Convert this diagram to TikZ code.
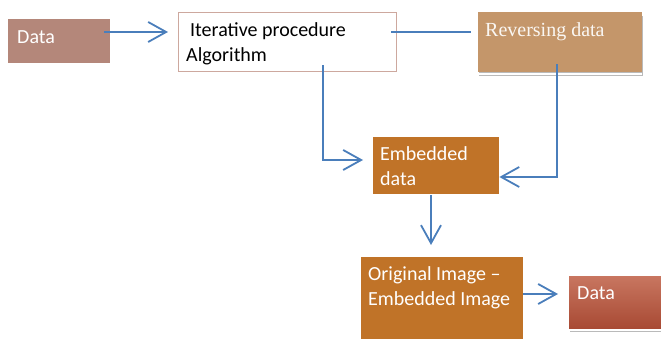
\documentclass[tikz,border=0pt]{standalone}
\usepackage{fontspec}
\setmainfont{Carlito}
\newfontfamily\serifface{Liberation Serif}
\usetikzlibrary{arrows.meta,shadows}
\definecolor{arrblue}{RGB}{74,126,187}
\definecolor{datapink}{RGB}{180,135,122}
\definecolor{revtan}{RGB}{196,150,106}
\definecolor{embor}{RGB}{192,115,40}
\definecolor{itborder}{RGB}{205,168,158}
\definecolor{dtop}{RGB}{200,118,96}
\definecolor{dmid}{RGB}{184,88,62}
\definecolor{dbot}{RGB}{168,74,52}
\tikzset{
  boxnode/.style={inner sep=0pt, anchor=north west, draw=none},
  txt/.style={inner sep=0pt, anchor=base west, font=\fontsize{20}{24}\selectfont, text=white},
  conn/.style={draw=arrblue, line width=1.8pt},
  arr/.style={conn, -{Straight Barb[length=18pt, width=20pt, line width=1.8pt]}},
  shd/.style={drop shadow={shadow xshift=1pt, shadow yshift=-4pt, opacity=0.45, fill=black!60}},
  rim/.style={draw=white, line width=1.6pt}
}
\begin{document}
\begin{tikzpicture}[x=1pt, y=-1pt]
\useasboundingbox (0,0) rectangle (661,339);
% boxes
\node[boxnode, fill=datapink, minimum width=102pt, minimum height=44pt] (d1) at (8,19) {};
\node[boxnode, fill=white, draw=itborder, line width=1.4pt, minimum width=218pt, minimum height=59pt] (it) at (178,12) {};
\node[boxnode, fill=revtan, shd, minimum width=164pt, minimum height=60pt] (rev) at (478,12) {};
\draw[rim] ([yshift=-1.5]rev.south west) -- ([yshift=-1.5]rev.south east);
\node[boxnode, fill=embor, minimum width=126pt, minimum height=57pt] (emb) at (373,137) {};
\node[boxnode, fill=embor, minimum width=162pt, minimum height=84pt] (orig) at (361,257) {};
\node[boxnode, top color=dtop, middle color=dmid, bottom color=dbot, shd, minimum width=96pt, minimum height=52pt] (d2) at (569,276) {};
\draw[rim] ([yshift=-1.5]d2.south west) -- ([yshift=-1.5]d2.south east);
% texts
\node[txt] (d1t) at (17,43.5) {Data};
\node[txt, text=black] (it1) at (190,36.7) {Iterative procedure};
\node[txt, text=black] (it2) at (186,62) {Algorithm};
\node[txt, text=white!92!revtan, font=\serifface\fontsize{20}{24}\selectfont] (revt) at (485,36.7) {Reversing data};
\node[txt] (emb1) at (380,160.7) {Embedded};
\node[txt] (emb2) at (380,185.5) {data};
\node[txt] (or1) at (368,280) {Original Image –};
\node[txt] (or2) at (368,305) {Embedded Image};
\node[txt] (d2t) at (577,299.5) {Data};
% connectors
\draw[arr] ([shift={(-6,13)}]d1.north east) -- ([shift={(-10,20)}]it.north west);
\draw[conn] ([shift={(-6,20)}]it.north east) -- ([shift={(-7,20)}]rev.north west);
\draw[arr] ([shift={(145,-7)}]it.south west) |- ([shift={(-10,23)}]emb.north west);
\draw[arr] ([shift={(79,-8)}]rev.south west) |- ([shift={(0,40)}]emb.north east);
\draw[arr] ([shift={(58,1)}]emb.south west) -- ([shift={(70,-12)}]orig.north west);
\draw[arr] ([shift={(0,37)}]orig.north east) -- ([shift={(-11,18)}]d2.north west);
\end{tikzpicture}
\end{document}
